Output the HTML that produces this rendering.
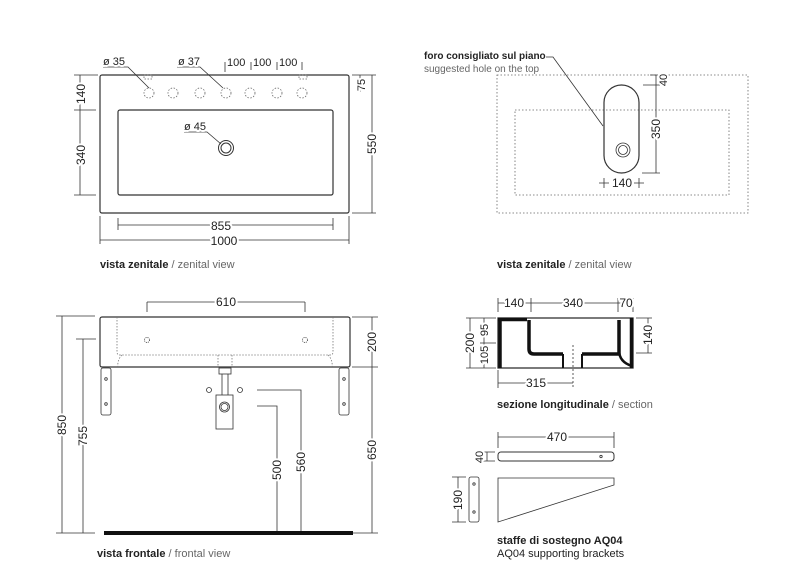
<!DOCTYPE html>
<html><head><meta charset="utf-8"><style>
html,body{margin:0;padding:0;background:#fff;}
svg{display:block;}
text{font-family:"Liberation Sans",sans-serif;fill:#222;}
.d text{paint-order:stroke;stroke:#fff;stroke-width:4px;stroke-linejoin:round;}
.d{font-size:11px;}
.c{font-size:11px;}
</style></head><body>
<svg width="800" height="588" viewBox="0 0 800 588" xmlns="http://www.w3.org/2000/svg">
<g stroke="#333" fill="none" stroke-width="0.8">
<!-- TOP LEFT -->
<rect x="100" y="75" width="249" height="138" rx="2" stroke-width="1.2"/>
<rect x="118" y="110" width="215" height="85" rx="2" stroke-width="1.2"/>
<g stroke-dasharray="1.5,1.5" stroke="#666">
<circle cx="149" cy="93" r="5"/><circle cx="173" cy="93" r="5"/><circle cx="200" cy="93" r="5"/><circle cx="226" cy="93" r="5"/><circle cx="250" cy="93" r="5"/><circle cx="277" cy="93" r="5"/><circle cx="302" cy="93" r="5"/>
<rect x="144" y="75" width="8" height="4"/><rect x="299" y="75" width="8" height="4"/>
</g>
<circle cx="226" cy="148" r="7.5" stroke-width="1"/><circle cx="226" cy="148" r="5" stroke-width="1"/>
<path d="M103 67 H128 L149 88"/><path d="M177 67 H200 L223 88"/><path d="M184 132 H207 L221 144"/>
<path d="M225 62 V72 M251 62 V70 M277 62 V70 M302 62 V70"/>
<path d="M80 75 V195 M74 75 H98 M74 110 H96 M74 195 H96"/>
<path d="M372 75 V213 M352 75 H376 M352 213 H376 M360 75 V92"/>
<path d="M118 225 H333 M118 218 V230 M333 218 V230 M100 240 H349 M100 216 V244 M349 216 V244"/>

<!-- TOP RIGHT -->
<rect x="497" y="75" width="251" height="138" stroke-dasharray="1.5,2" stroke="#666"/>
<rect x="515" y="110" width="214" height="85" stroke-dasharray="1.5,2" stroke="#666"/>
<rect x="604" y="85" width="35" height="88" rx="17.5" stroke-width="1.2"/>
<circle cx="623" cy="150" r="7"/><circle cx="623" cy="150" r="4.5"/>
<path d="M546 57 H553 L603 126"/>
<path d="M656 75 V173 M643 85 H660 M642 173 H660 M650 75 H660"/>
<path d="M604 178 V188 M639 178 V188 M599 183 H609 M634 183 H644"/>

<!-- FRONT -->
<rect x="100" y="317" width="250" height="50" rx="2" stroke-width="1.2"/>
<path d="M117 317 V352 Q117 355 120 355 H330 Q333 355 333 352 V317" stroke-dasharray="1.5,1.5" stroke="#777"/>
<path d="M122 355 Q117 360 118 367 M328 355 Q333 360 332 367" stroke-dasharray="1.5,1.5" stroke="#777"/>
<path d="M218 355 V367 M232 355 V367" stroke-dasharray="1.5,1.5" stroke="#777"/>
<circle cx="147" cy="340" r="2.5" stroke-dasharray="1,1"/><circle cx="305" cy="340" r="2.5" stroke-dasharray="1,1"/>
<rect x="101" y="368" width="10" height="47" rx="2"/><rect x="339" y="368" width="10" height="47" rx="2"/>
<circle cx="106" cy="379" r="1.3"/><circle cx="106" cy="404" r="1.3"/><circle cx="344" cy="379" r="1.3"/><circle cx="344" cy="404" r="1.3"/>
<rect x="219" y="368" width="12" height="6"/><path d="M222 374 V395 M228 374 V395"/>
<rect x="216" y="395" width="17" height="34"/><circle cx="224.5" cy="407" r="5"/><circle cx="224.5" cy="407" r="3.5"/>
<circle cx="209" cy="390" r="2.5"/><circle cx="240" cy="390" r="2.5"/>
<path d="M147 302 V312 M305 302 V312 M147 302 H305"/>
<path d="M62 316 V533 M56 316 H95 M83 339 V533 M76 339 H96 M56 533 H95"/>
<path d="M257 406 H277 V533 M257 390 H301 V533"/>
<path d="M372 317 V533 M352 317 H378 M352 367 H378 M352 533 H378"/>

<!-- SECTION -->
<rect x="498" y="318" width="135" height="50" stroke-width="1.3"/>
<path d="M500 318 V368 M498 319.5 H527 M631.5 318 V368" stroke="#111" stroke-width="3.5"/>
<path d="M529 320 V349 Q529 354 534 354 H563 M582 354 H619 V320" stroke="#111" stroke-width="3.5"/>
<path d="M619 350 Q619 362 632 366" stroke="#111" stroke-width="2.5"/>
<path d="M563 354 V368 M582 354 V368" stroke="#111" stroke-width="2"/>
<path d="M573 345 V388" stroke-dasharray="2,2"/>
<path d="M498 303 H633 M531 298 V312 M618 298 V312 M633 298 V312 M498 298 V312"/>
<path d="M470 318 V368 M466 318 H496 M466 368 H496 M484 318 V368 M480 343 H496"/>
<path d="M648 318 V353 M636 318 H652 M636 353 H652"/>
<path d="M498 370 V388 M498 383 H573"/>

<!-- BRACKETS -->
<rect x="498" y="452" width="116" height="9" rx="3" stroke-width="1"/>
<circle cx="601" cy="456.5" r="1.2"/>
<path d="M498 437 H614 M498 432 V448 M614 432 V448"/>
<path d="M487 452 V461 M483 452 H495 M483 461 H495"/>
<rect x="469" y="477" width="10" height="45" rx="2"/>
<circle cx="474" cy="484" r="1.2"/><circle cx="474" cy="512" r="1.2"/>
<path d="M498 478 H614 V485 L498 522 Z"/>
<path d="M458 477 V522 M452 477 H466 M452 522 H466"/>
</g>
<g fill="#111" stroke="none"><rect x="104" y="531" width="249" height="4"/></g>

<g class="d">
<text x="103" y="65">ø 35</text><text x="178" y="65">ø 37</text><text x="184" y="130">ø 45</text>
<text x="227" y="66">100</text><text x="253" y="66">100</text><text x="279" y="66">100</text>
<text x="221" y="230" text-anchor="middle" style="font-size:12px">855</text>
<text x="224" y="245" text-anchor="middle" style="font-size:12px">1000</text>
<text transform="translate(85,94) rotate(-90)" text-anchor="middle" style="font-size:12px">140</text>
<text transform="translate(85,155) rotate(-90)" text-anchor="middle" style="font-size:12px">340</text>
<text transform="translate(376,144) rotate(-90)" text-anchor="middle" style="font-size:12px">550</text>
<text transform="translate(365,85) rotate(-90)" text-anchor="middle">75</text>
<text transform="translate(667,80) rotate(-90)" text-anchor="middle">40</text>
<text transform="translate(660,129) rotate(-90)" text-anchor="middle" style="font-size:12px">350</text>
<text x="622" y="187" text-anchor="middle" style="font-size:12px">140</text>
<text x="226" y="306" text-anchor="middle" style="font-size:12px">610</text>
<text transform="translate(66,425) rotate(-90)" text-anchor="middle" style="font-size:12px">850</text>
<text transform="translate(87,436) rotate(-90)" text-anchor="middle" style="font-size:12px">755</text>
<text transform="translate(281,470) rotate(-90)" text-anchor="middle" style="font-size:12px">500</text>
<text transform="translate(305,462) rotate(-90)" text-anchor="middle" style="font-size:12px">560</text>
<text transform="translate(376,450) rotate(-90)" text-anchor="middle" style="font-size:12px">650</text>
<text transform="translate(376,342) rotate(-90)" text-anchor="middle" style="font-size:12px">200</text>
<text x="514" y="307" text-anchor="middle" style="font-size:12px">140</text>
<text x="573" y="307" text-anchor="middle" style="font-size:12px">340</text>
<text x="626" y="307" text-anchor="middle" style="font-size:12px">70</text>
<text transform="translate(474,343) rotate(-90)" text-anchor="middle" style="font-size:12px">200</text>
<text transform="translate(488,330) rotate(-90)" text-anchor="middle">95</text>
<text transform="translate(488,355) rotate(-90)" text-anchor="middle">105</text>
<text transform="translate(652,335) rotate(-90)" text-anchor="middle" style="font-size:12px">140</text>
<text x="536" y="387" text-anchor="middle" style="font-size:12px">315</text>
<text x="557" y="441" text-anchor="middle" style="font-size:12px">470</text>
<text transform="translate(483,457) rotate(-90)" text-anchor="middle">40</text>
<text transform="translate(462,500) rotate(-90)" text-anchor="middle" style="font-size:12px">190</text>
</g>
<g class="c">
<text x="424" y="59" style="font-weight:bold;font-size:10px">foro consigliato sul piano</text>
<text x="424" y="72" style="font-size:10px;fill:#666">suggested hole on the top</text>
<text x="100" y="268"><tspan font-weight="bold">vista zenitale</tspan><tspan fill="#666"> / zenital view</tspan></text>
<text x="497" y="268"><tspan font-weight="bold">vista zenitale</tspan><tspan fill="#666"> / zenital view</tspan></text>
<text x="497" y="408"><tspan font-weight="bold">sezione longitudinale</tspan><tspan fill="#666"> / section</tspan></text>
<text x="497" y="544" font-weight="bold">staffe di sostegno AQ04</text>
<text x="497" y="557" fill="#666">AQ04 supporting brackets</text>
<text x="97" y="557"><tspan font-weight="bold">vista frontale</tspan><tspan fill="#666"> / frontal view</tspan></text>
</g>
</svg>
</body></html>
